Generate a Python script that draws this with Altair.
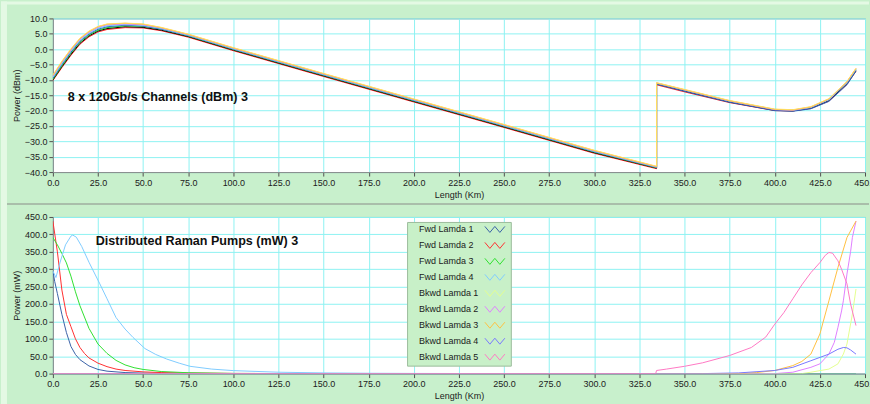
import altair as alt
import pandas as pd

# ---------------- channel power along the link (dBm) ----------------
CHANNEL_KM = [0, 5, 10, 15, 20, 25, 30, 40, 50, 60, 75, 100, 150, 200, 250,
              300, 334.5, 334.5, 350, 375, 400, 410, 420, 430, 440, 445]

CH_NAMES = ["Ch 1", "Ch 2", "Ch 3", "Ch 4", "Ch 5", "Ch 6", "Ch 7", "Ch 8"]
CH_COLORS = ["#ff2020", "#000000", "#20dd20", "#3060c0",
             "#70c8ff", "#d080ff", "#ffb040", "#ffe060"]

CH1_DBM = [-10.2, -6.0, -2.0, 1.6, 4.0, 5.6, 6.4, 7.0, 6.9, 6.0, 3.9, -0.5, -8.9, -17.2, -25.5,
           -33.9, -38.9, -11.6, -13.9, -17.4, -20.0, -20.1, -19.3, -16.9, -11.4, -7.2]
CH2_DBM = [-10.0, -5.7, -1.7, 1.9, 4.3, 5.9, 6.7, 7.3, 7.1, 6.2, 4.1, -0.3, -8.7, -17.0, -25.3,
           -33.7, -38.7, -11.3, -13.6, -17.2, -19.9, -20.1, -19.2, -16.7, -11.2, -7.0]
CH3_DBM = [-9.8, -5.4, -1.3, 2.3, 4.6, 6.2, 7.0, 7.6, 7.4, 6.5, 4.3, -0.1, -8.5, -16.8, -25.1,
           -33.5, -38.6, -11.2, -13.4, -17.0, -19.7, -19.9, -19.0, -16.4, -10.9, -6.7]
CH4_DBM = [-9.5, -5.0, -1.0, 2.6, 4.9, 6.5, 7.3, 7.8, 7.5, 6.5, 4.4, 0.0, -8.4, -16.7, -25.0,
           -33.4, -38.5, -11.4, -13.7, -17.3, -20.0, -20.2, -19.4, -17.0, -11.6, -7.1]
CH5_DBM = [-9.2, -4.7, -0.6, 2.9, 5.2, 6.8, 7.6, 8.0, 7.7, 6.7, 4.5, 0.1, -8.3, -16.6, -24.9,
           -33.3, -38.4, -11.1, -13.3, -16.9, -19.6, -19.9, -19.0, -16.5, -11.0, -6.6]
CH6_DBM = [-8.8, -4.3, -0.3, 3.2, 5.5, 7.1, 7.9, 8.2, 7.9, 6.9, 4.7, 0.3, -8.1, -16.4, -24.7,
           -33.1, -38.3, -11.0, -13.3, -16.9, -19.7, -19.9, -18.9, -16.3, -10.7, -6.4]
CH7_DBM = [-8.6, -4.1, -0.1, 3.4, 5.7, 7.3, 8.1, 8.4, 8.1, 7.0, 4.8, 0.4, -8.0, -16.3, -24.6,
           -33.0, -38.2, -11.0, -13.2, -16.8, -19.6, -19.8, -18.8, -16.2, -10.6, -6.3]
CH8_DBM = [-8.4, -3.9, 0.1, 3.6, 5.9, 7.4, 8.2, 8.5, 8.2, 7.1, 4.9, 0.5, -7.9, -16.2, -24.5,
           -32.9, -38.1, -10.9, -13.1, -16.7, -19.5, -19.7, -18.7, -16.1, -10.5, -6.2]
CH_SERIES = [CH1_DBM, CH2_DBM, CH3_DBM, CH4_DBM, CH5_DBM, CH6_DBM, CH7_DBM, CH8_DBM]

# ---------------- distributed Raman pump power (mW) ----------------
PUMP_NAMES = ["Fwd Lamda 1", "Fwd Lamda 2", "Fwd Lamda 3", "Fwd Lamda 4",
              "Bkwd Lamda 1", "Bkwd Lamda 2", "Bkwd Lamda 3", "Bkwd Lamda 4", "Bkwd Lamda 5"]
PUMP_COLORS = ["#3a62a8", "#ff3030", "#30e030", "#80ccff",
               "#e4ff90", "#e080ff", "#ffc040", "#7878ff", "#ff78c4"]

FWD1_KM = [0, 1, 2.5, 5, 7.5, 10, 12.5, 15, 20, 25, 30, 40, 50, 75, 100, 445]
FWD1_MW = [295, 265, 230, 170, 118, 78, 55, 40, 22, 12, 7, 3, 1.5, 0.5, 0, 0]

FWD2_KM = [0, 2.5, 5, 7.5, 10, 12.5, 15, 17.5, 20, 25, 30, 35, 40, 50, 60, 75, 100, 150, 445]
FWD2_MW = [438, 350, 240, 170, 135, 100, 75, 58, 45, 30, 20, 13, 9, 5, 3, 1.5, 0.5, 0, 0]

FWD3_KM = [0, 2.5, 5, 7.5, 10, 12.5, 15, 20, 25, 30, 35, 40, 45, 50, 60, 75, 100, 150, 445]
FWD3_MW = [391, 370, 345, 318, 280, 235, 195, 130, 85, 58, 38, 25, 17, 12, 6, 2.5, 0.5, 0, 0]

FWD4_KM = [0, 1.7, 4, 7, 10, 11, 13, 16, 20, 26, 30, 35, 40, 44.4, 51, 57, 63, 70, 76, 88,
           100, 125, 150, 175, 200, 250, 445]
FWD4_MW = [295, 276, 320, 370, 395, 398, 392, 365, 320, 258, 215, 161, 128, 104, 72, 55, 42,
           30, 21, 13, 8.6, 4, 2, 1, 0.5, 0, 0]

BK1_KM = [0, 415, 420, 430, 435, 438, 440, 443, 445]
BK1_MW = [0, 0, 4, 13, 28, 56, 85, 171, 243]

BK2_KM = [0, 400, 410, 420, 425, 430, 433, 435, 437, 438, 440, 442, 443, 445]
BK2_MW = [0, 0, 4, 18, 28, 56, 90, 133, 180, 209, 286, 350, 391, 438]

BK3_KM = [0, 380, 390, 400, 410, 415, 420, 425, 430, 435, 440, 445]
BK3_MW = [0, 0, 3, 9, 23, 35, 56, 114, 209, 305, 391, 438]

BK4_KM = [0, 360, 380, 400, 410, 420, 430, 435, 438, 440, 442, 445]
BK4_MW = [0, 0, 2, 9, 18, 37, 56, 70, 75, 74, 68, 56]

BK5_KM = [0, 334, 334.5, 340, 350, 360, 375, 387, 395, 400, 405, 410, 415, 420, 425, 428,
          430, 432, 435, 437, 440, 442, 445]
BK5_MW = [0, 0, 9, 13, 21, 31, 52, 75, 105, 142, 175, 215, 255, 290, 319, 340, 348, 346,
          324, 300, 258, 200, 138]

PUMP_KM = [FWD1_KM, FWD2_KM, FWD3_KM, FWD4_KM, BK1_KM, BK2_KM, BK3_KM, BK4_KM, BK5_KM]
PUMP_MW = [FWD1_MW, FWD2_MW, FWD3_MW, FWD4_MW, BK1_MW, BK2_MW, BK3_MW, BK4_MW, BK5_MW]

TOP_TITLE = "8 x 120Gb/s Channels (dBm)  3"
BOTTOM_TITLE = "Distributed Raman Pumps (mW)  3"
X_TICKS = [0, 25, 50, 75, 100, 125, 150, 175, 200, 225, 250, 275, 300, 325, 350, 375, 400, 425, 450]
TOP_TICKS = [10, 5, 0, -5, -10, -15, -20, -25, -30, -35, -40]
BOTTOM_TICKS = [0, 50, 100, 150, 200, 250, 300, 350, 400, 450]

FONT = "Liberation Sans"
PANEL_BG = "#c8f0cc"
FRAME_LIGHT = "#e4f9e4"
FRAME_LINE = "#9fae9f"

# ---------------- long-form tables ----------------
ch_rows = []
for name, vals in zip(CH_NAMES, CH_SERIES):
    for i, (km, v) in enumerate(zip(CHANNEL_KM, vals)):
        ch_rows.append({"series": name, "km": km, "value": v, "step": i})
ch_df = pd.DataFrame(ch_rows)

pump_rows = []
for name, kms, vals in zip(PUMP_NAMES, PUMP_KM, PUMP_MW):
    for i, (km, v) in enumerate(zip(kms, vals)):
        pump_rows.append({"series": name, "km": km, "value": v, "step": i})
pump_df = pd.DataFrame(pump_rows)


def length_x():
    return alt.X("km:Q", scale=alt.Scale(domain=[0, 450], nice=False, zero=False),
                 axis=alt.Axis(values=X_TICKS, format=".1f", title="Length (Km)",
                               labelFlush=False))


# zigzag swatch; the path is shifted right so it sits after the label text
ZIGZAG = "M23.5,-1L25.17,1L26.83,-1L28.5,1L30.17,-1"

one_row = pd.DataFrame({"k": [0]})

# panel frame: light strip on the left/top edge and the divider between the two graphs
frame_left = alt.Chart(one_row).mark_rect(color=FRAME_LIGHT).encode(
    x=alt.value(-52), x2=alt.value(-46), y=alt.value(-17), y2=alt.value(387))
frame_top = alt.Chart(one_row).mark_rect(color=FRAME_LIGHT).encode(
    x=alt.value(-52), x2=alt.value(818), y=alt.value(-17), y2=alt.value(-14))
frame_divider = alt.Chart(one_row).mark_rule(color=FRAME_LINE, strokeWidth=1.5).encode(
    x=alt.value(-46), x2=alt.value(818), y=alt.value(186))

# ---------------- upper panel: channels ----------------
ch_lines = alt.Chart(ch_df).mark_line(strokeWidth=1, clip=True).encode(
    x=length_x(),
    y=alt.Y("value:Q", scale=alt.Scale(domain=[-40, 10], nice=False, zero=False),
            axis=alt.Axis(values=TOP_TICKS, format=".1f", title="Power (dBm)")),
    color=alt.Color("series:N", scale=alt.Scale(domain=CH_NAMES, range=CH_COLORS), legend=None),
    detail="series:N",
    order="step:Q",
)
ch_label = alt.Chart(pd.DataFrame({"t": [TOP_TITLE]})).mark_text(
    align="left", baseline="middle", font=FONT, fontSize=12.6, fontWeight="bold", color="#101010"
).encode(text="t:N", x=alt.value(15), y=alt.value(79))
top = alt.layer(frame_left, frame_top, frame_divider, ch_lines, ch_label).properties(
    width=814, height=154)

# ---------------- lower panel: pumps ----------------
pump_lines = alt.Chart(pump_df).mark_line(strokeWidth=1, clip=True).encode(
    x=length_x(),
    y=alt.Y("value:Q", scale=alt.Scale(domain=[0, 450], nice=False),
            axis=alt.Axis(values=BOTTOM_TICKS, format=".1f", title="Power (mW)")),
    color=alt.Color(
        "series:N",
        scale=alt.Scale(domain=PUMP_NAMES, range=PUMP_COLORS),
        sort=PUMP_NAMES,
        legend=alt.Legend(
            title=None, orient="none", legendX=355, legendY=5,
            fillColor="#c8f0c8", strokeColor="#9cbc9c", padding=3,
            symbolType=ZIGZAG, symbolSize=36, symbolStrokeWidth=1,
            symbolFillColor="transparent", symbolOffset=0,
            labelAlign="left", labelOffset=0, rowPadding=5,
            labelFont=FONT, labelFontSize=9, labelColor="#202020",
        ),
    ),
    detail="series:N",
    order="step:Q",
)
pump_label = alt.Chart(pd.DataFrame({"t": [BOTTOM_TITLE]})).mark_text(
    align="left", baseline="middle", font=FONT, fontSize=12.6, fontWeight="bold", color="#101010"
).encode(text="t:N", x=alt.value(43), y=alt.value(24))
bottom = alt.layer(pump_lines, pump_label).properties(width=814, height=157)

chart = alt.vconcat(top, bottom, spacing=45, bounds="flush").resolve_scale(
    color="independent"
).properties(
    padding={"left": 0, "top": 0, "right": -7, "bottom": 0},
    autosize=alt.AutoSizeParams(type="pad"),
).configure(
    background=PANEL_BG,
).configure_view(
    fill="white", stroke="#9a9a9a", strokeWidth=1,
).configure_axis(
    labelFont=FONT, labelFontSize=9, labelColor="#202020",
    titleFont=FONT, titleFontSize=9, titleFontWeight="normal", titleColor="#202020",
    gridColor="#8ef2f2", gridWidth=1, gridOpacity=1,
    domainColor="#8a8a8a", tickColor="#505050", tickSize=4,
    labelPadding=2, titlePadding=3,
)

chart.save("out.html", embed_options={"renderer": "svg", "actions": False})
